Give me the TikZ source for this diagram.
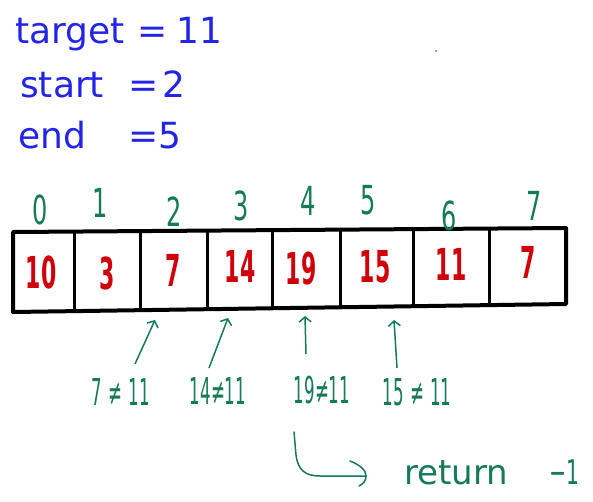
\documentclass[tikz,border=0pt]{standalone}
\usepackage{fontspec}
\setmainfont{DejaVu Sans}
\newfontfamily\narrowA[FakeStretch=0.6]{DejaVu Sans}
\newfontfamily\narrowB[FakeStretch=0.5]{DejaVu Sans}
\newfontfamily\narrowC[FakeStretch=0.45]{DejaVu Sans}
\usetikzlibrary{arrows.meta}
\definecolor{ink}{HTML}{2424E6}
\definecolor{grn}{HTML}{157A55}
\definecolor{rd}{HTML}{D0000A}
\tikzset{
  vartext/.style={anchor=base west, text=ink, font=\fontsize{36}{38}\selectfont, inner sep=0pt},
  idx/.style={text=grn, font=\narrowA\fontsize{40}{42}\selectfont, inner sep=0pt},
  val/.style={text=rd, font=\narrowB\bfseries\fontsize{44}{46}\selectfont, inner sep=0pt},
  cmp/.style={text=grn, font=\narrowC\fontsize{37}{39}\selectfont, inner sep=0pt},
  ptr/.style={draw=grn, line width=1.5pt, -{Straight Barb[length=5pt,width=12pt]}},
  rline/.style={draw=grn, line width=1.5pt, line cap=round},
  cellbox/.style={draw=black, line width=4pt, line join=round},
  divider/.style={draw=black, line width=3pt}
}
\begin{document}
\begin{tikzpicture}[x=1pt,y=-1pt]
\useasboundingbox (0,0) rectangle (593,501);
\fill[white] (0,0) rectangle (593,501);
% variables
\node[vartext] (t) at (15,43) {target};
\node[vartext] (teq) at (137,43) {=};
\node[vartext] (tv) at (176,43) {11};
\node[vartext] (s) at (20,97) {start};
\node[vartext] (seq) at (128,97) {=};
\node[vartext] (sv) at (162,97) {2};
\node[vartext] (e) at (18,148) {end};
\node[vartext] (eeq) at (128,148) {=};
\node[vartext] (ev) at (158,148) {5};
\fill[black!60] (436,51) circle (1pt);
% array
\coordinate (tl) at (13,232); \coordinate (tr) at (566,228);
\coordinate (br) at (566,304); \coordinate (bl) at (13,312);
\draw[cellbox] (tl) -- (tr) -- (br) -- (bl) -- cycle;
\foreach \x in {74,140,207,272,340,413,489}{
  \pgfmathsetmacro{\yt}{232-4*(\x-13)/553}
  \pgfmathsetmacro{\yb}{312-8*(\x-13)/553}
  \draw[divider] (\x,\yt) -- (\x,\yb);
}
% values
\node[val] (v0) at (41,272) {10};
\node[val] (v1) at (107,273) {3};
\node[val] (v2) at (173,270) {7};
\node[val] (v3) at (240,266) {14};
\node[val] (v4) at (301,268) {19};
\node[val] (v5) at (375,267) {15};
\node[val] (v6) at (451,264) {11};
\node[val] (v7) at (528,262) {7};
% indices
\node[idx] (n0) at (40,210) {0};
\node[idx] (n1) at (100,203) {1};
\node[idx] (n2) at (174,212) {2};
\node[idx] (n3) at (241,206) {3};
\node[idx] (n4) at (308,201) {4};
\node[idx] (n5) at (368,200) {5};
\node[idx] (n6) at (449,216) {6};
\node[idx] (n7) at (534,206) {7};
% comparisons
\node[cmp] (c2) at (121,392) {7\,≠\,11};
\node[cmp] (c3) at (218,391) {14≠11};
\node[cmp] (c4) at (322,390) {19≠11};
\node[cmp] (c5) at (417,392) {15\,≠\,11};
\coordinate (a2s) at (135,364); \coordinate (a2e) at (155,320);
\coordinate (a3s) at (209,368); \coordinate (a3e) at (228,318);
\coordinate (a4s) at (306,354); \coordinate (a4e) at (305,316);
\coordinate (a5s) at (397,368); \coordinate (a5e) at (394,320);
\draw[ptr] (a2s) -- (a2e);
\draw[ptr] (a3s) -- (a3e);
\draw[ptr] (a4s) -- (a4e);
\draw[ptr] (a5s) -- (a5e);
% return
\node[anchor=base west, text=grn, font=\fontsize{34}{36}\selectfont, inner sep=0pt] (r) at (404,484) {return};
\node[anchor=base west, text=grn, font=\narrowA\fontsize{34}{36}\selectfont, inner sep=0pt] (m1) at (549,484) {−1};
\coordinate (rs) at (294,432);
\coordinate (re) at (366,476);
\draw[rline] (rs) -- (296,455) .. controls (298,470) and (305,476) .. (320,476) -- (re);
\draw[rline] (350,461) .. controls (360,465) and (366,470) .. (re) .. controls (366,481) and (363,484) .. (359,486);
\end{tikzpicture}
\end{document}
